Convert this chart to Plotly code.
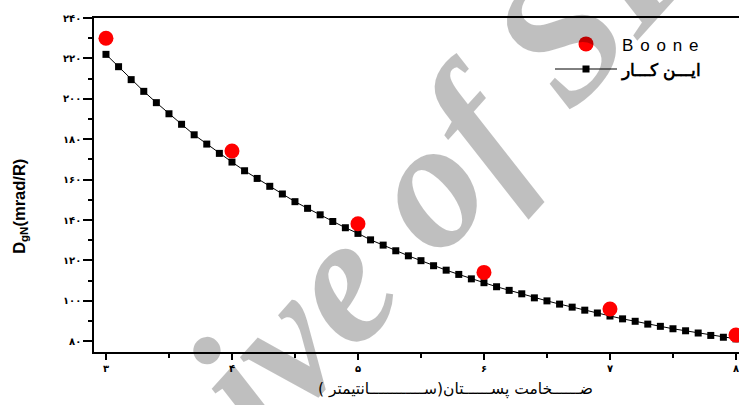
import plotly.graph_objects as go

# ---- data ----
x_fit = [3.0, 3.1, 3.2, 3.3, 3.4, 3.5, 3.6, 3.7, 3.8, 3.9,
         4.0, 4.1, 4.2, 4.3, 4.4, 4.5, 4.6, 4.7, 4.8, 4.9,
         5.0, 5.1, 5.2, 5.3, 5.4, 5.5, 5.6, 5.7, 5.8, 5.9,
         6.0, 6.1, 6.2, 6.3, 6.4, 6.5, 6.6, 6.7, 6.8, 6.9,
         7.0, 7.1, 7.2, 7.3, 7.4, 7.5, 7.6, 7.7, 7.8, 7.9, 8.0]
y_fit = [222.0, 215.9, 209.5, 203.7, 198.1, 192.6, 187.4, 182.2, 177.6, 173.0,
         168.7, 164.4, 160.6, 156.7, 152.9, 149.1, 145.8, 142.6, 139.3, 136.2,
         133.4, 130.2, 127.6, 124.8, 122.3, 119.9, 117.4, 115.2, 113.1, 110.9,
         109.0, 107.0, 105.2, 103.5, 101.5, 100.0, 98.4, 96.9, 95.4, 94.0,
         92.5, 91.1, 89.9, 88.5, 87.4, 86.2, 85.2, 84.1, 82.9, 82.0, 81.2]
x_boone = [3, 4, 5, 6, 7, 8]
y_boone = [230.0, 174.2, 138.2, 114.1, 96.0, 83.1]

x_tickvals = [3, 4, 5, 6, 7, 8]
x_ticktext = ["۳", "۴", "۵", "۶", "۷", "۸"]
y_tickvals = [80, 100, 120, 140, 160, 180, 200, 220, 240]
y_ticktext = ["۸۰", "۱۰۰", "۱۲۰", "۱۴۰", "۱۶۰", "۱۸۰", "۲۰۰", "۲۲۰", "۲۴۰"]

name_boone = "B\u2009\u2009o\u2009\u2009o\u2009\u2009n\u2009\u2009e"
name_fit = "<b>ایـــن کـــار</b>"
x_title = "ضــــــخامت پســــــتان(ســــــــــــانتیمتر )"
y_title = "<b>D<sub>gN</sub>(mrad/R)</b>"
watermark = "<b><i>Archive of SID</i></b>"

fig = go.Figure()
fig.add_trace(go.Scatter(
    x=x_fit, y=y_fit, mode="lines+markers", name=name_fit,
    line=dict(color="black", width=1),
    marker=dict(symbol="square", size=7, color="black"),
))
fig.add_trace(go.Scatter(
    x=x_boone, y=y_boone, mode="markers", name=name_boone,
    marker=dict(symbol="circle", size=15, color="#ff0000"),
))

fig.update_layout(
    width=739, height=405,
    margin=dict(l=94, r=0, t=18, b=53),
    paper_bgcolor="white", plot_bgcolor="white",
    showlegend=True,
    legend=dict(
        x=(550 - 94) / 645, y=0.975, xanchor="left", yanchor="top",
        traceorder="reversed", bgcolor="rgba(0,0,0,0)",
        font=dict(family="Liberation Sans, Arial", size=17, color="black"),
        itemwidth=62, tracegroupgap=0,
    ),
    xaxis=dict(
        range=[2.905, 8.024], showgrid=False, zeroline=False,
        showline=True, linecolor="black", linewidth=1.5, mirror=True,
        ticks="outside", ticklen=6, tickwidth=1.5, tickcolor="black",
        tickvals=x_tickvals, ticktext=["<b>" + t + "</b>" for t in x_ticktext],
        tickfont=dict(family="DejaVu Sans", size=10, color="black"),
        ticklabeloverflow="allow",
        minor=dict(dtick=0.5, tick0=3, ticks="outside", ticklen=4, tickwidth=1.5, tickcolor="black"),
    ),
    yaxis=dict(
        range=[74.7, 240], showgrid=False, zeroline=False,
        showline=True, linecolor="black", linewidth=1.5,
        ticks="outside", ticklen=9, tickwidth=1.5, tickcolor="black",
        tickvals=y_tickvals, ticktext=["<b>" + t + "</b>" for t in y_ticktext],
        tickfont=dict(family="DejaVu Sans", size=10, color="black"),
        minor=dict(dtick=10, tick0=80, ticks="outside", ticklen=4, tickwidth=1.5, tickcolor="black"),
    ),
    annotations=[
        dict(text=watermark, xref="paper", yref="paper", x=0.391, y=0.237,
             xanchor="center", yanchor="middle", showarrow=False, textangle=-48,
             font=dict(family="Liberation Serif, Times New Roman", size=182,
                       color="rgba(0,0,0,0.25)")),
        dict(text=y_title, xref="paper", yref="paper", x=-0.115, y=0.437,
             xanchor="center", yanchor="middle", showarrow=False, textangle=-90,
             font=dict(family="Liberation Sans, Arial", size=16.5, color="black")),
        dict(text=x_title, xref="paper", yref="paper", x=0.56, y=-0.111,
             xanchor="center", yanchor="middle", showarrow=False,
             font=dict(family="DejaVu Sans", size=15.5, color="black")),
    ],
)

fig.write_html("out.html")
